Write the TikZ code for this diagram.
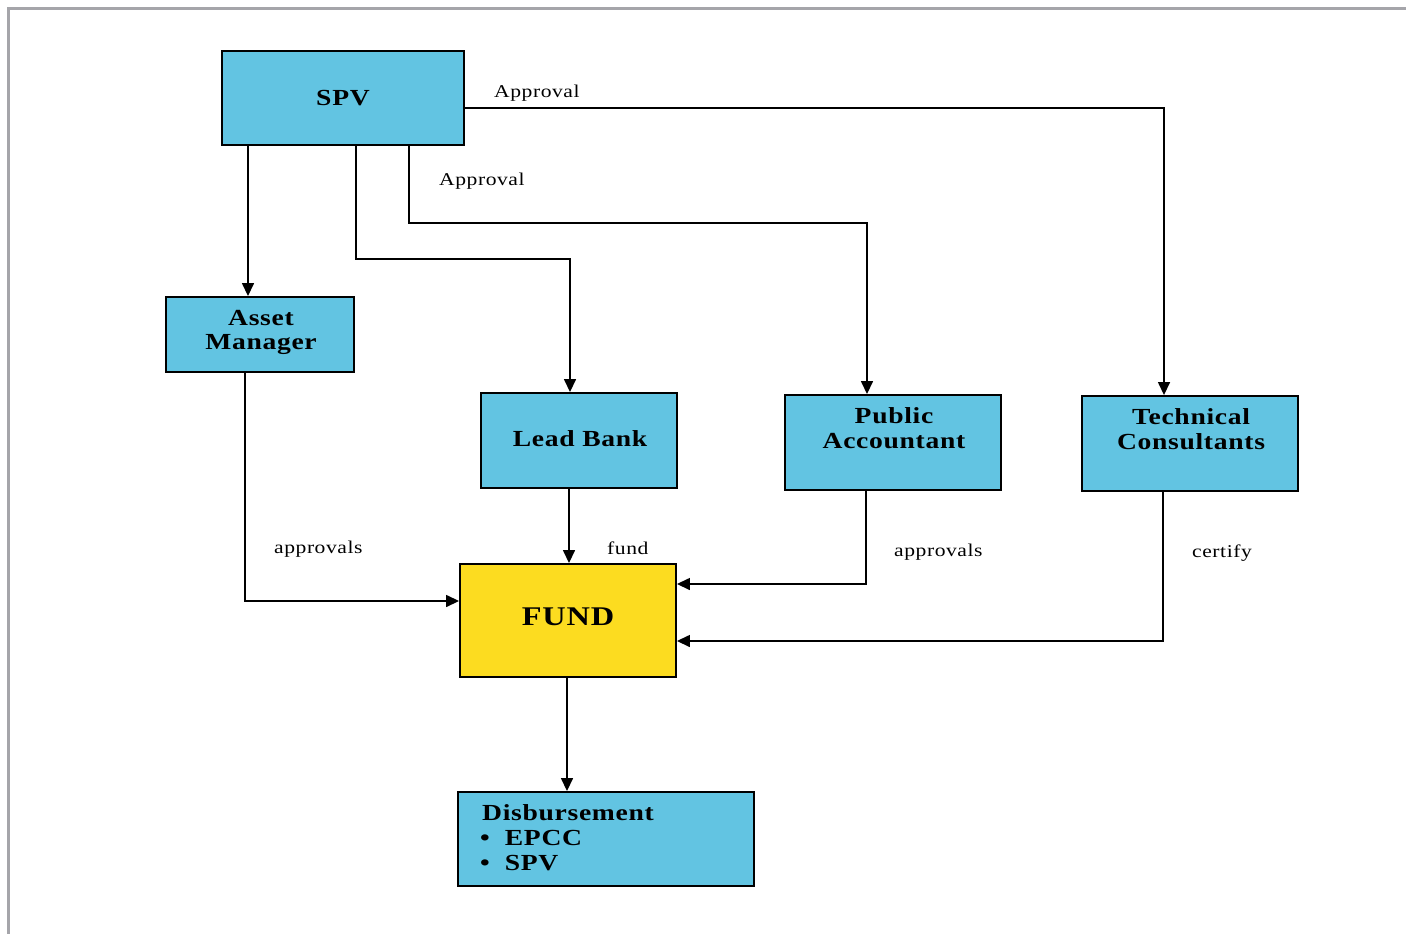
\documentclass[tikz,border=0pt]{standalone}
\usepackage{fontspec}
\setmainfont{Liberation Serif}[FakeStretch=1.2,LetterSpace=3]
\usetikzlibrary{arrows.meta}
\definecolor{boxblue}{RGB}{98,196,226}
\definecolor{fundyellow}{RGB}{252,220,32}
\definecolor{framegray}{RGB}{165,165,170}
\begin{document}
\begin{tikzpicture}[x=1pt,y=-1pt,
  box/.style={draw=black, line width=1.9pt, fill=boxblue, inner sep=0pt},
  fundbox/.style={box, fill=fundyellow},
  boxtext/.style={font=\fontsize{23}{25}\selectfont\bfseries, anchor=base, inner sep=0pt},
  lbl/.style={font=\fontsize{18}{20}\selectfont, anchor=base west, inner sep=0pt},
  conn/.style={draw=black, line width=1.5pt, -{Triangle[length=13pt,width=12pt]}}]
\useasboundingbox (0,0) rectangle (1406,934);
\draw[framegray, line width=3pt] (8.5,934) -- (8.5,8.5) -- (1406,8.5);

% boxes
\node[box, minimum width=242pt, minimum height=94pt] (spv) at (343,98) {};
\node[box, minimum width=188pt, minimum height=75pt] (am) at (260,334.5) {};
\node[box, minimum width=196pt, minimum height=95pt] (lb) at (579,440.5) {};
\node[box, minimum width=216pt, minimum height=95pt] (pa) at (893,442.5) {};
\node[box, minimum width=216pt, minimum height=95pt] (tc) at (1190,443.5) {};
\node[fundbox, minimum width=216pt, minimum height=113pt] (fund) at (568,620.5) {};
\node[box, minimum width=296pt, minimum height=94pt] (disb) at (606,839) {};

% box texts
\node[boxtext] (tspv) at (343,105) {SPV};
\node[boxtext] (tam1) at (261,325) {Asset};
\node[boxtext] (tam2) at (261,349) {Manager};
\node[boxtext] (tlb) at (580,446) {Lead Bank};
\node[boxtext] (tpa1) at (894,423) {Public};
\node[boxtext] (tpa2) at (894,448) {Accountant};
\node[boxtext] (ttc1) at (1191,424) {Technical};
\node[boxtext] (ttc2) at (1191,449) {Consultants};
\node[boxtext, font=\fontsize{27}{30}\selectfont\bfseries] (tfund) at (568,625) {FUND};
\node[boxtext, anchor=base west] (td1) at (482,820) {Disbursement};
\node[boxtext, anchor=base west] (td2) at (480,845) {\textbullet\hskip 15pt EPCC};
\node[boxtext, anchor=base west] (td3) at (480,870) {\textbullet\hskip 15pt SPV};

% connectors
\draw[conn] (spv.east |- 0,108) -| (tc.north -| 1164,0);
\draw[conn] (spv.south -| 248,0) -- (am.north -| 248,0);
\draw[conn] (spv.south -| 356,0) -- (356,259) -| (lb.north -| 570,0);
\draw[conn] (spv.south -| 409,0) -- (409,223) -| (pa.north -| 867,0);
\draw[conn] (am.south -| 245,0) |- (fund.west |- 0,601);
\draw[conn] (lb.south -| 569,0) -- (fund.north -| 569,0);
\draw[conn] (pa.south -| 866,0) |- (fund.east |- 0,584);
\draw[conn] (tc.south -| 1163,0) |- (fund.east |- 0,641);
\draw[conn] (fund.south -| 567,0) -- (disb.north -| 567,0);

% labels
\node[lbl] (l1) at (494,98) {Approval};
\node[lbl] (l2) at (439,185) {Approval};
\node[lbl] (l3) at (274,553) {approvals};
\node[lbl] (l4) at (607,554) {fund};
\node[lbl] (l5) at (894,556) {approvals};
\node[lbl] (l6) at (1192,557) {certify};
\end{tikzpicture}
\end{document}
